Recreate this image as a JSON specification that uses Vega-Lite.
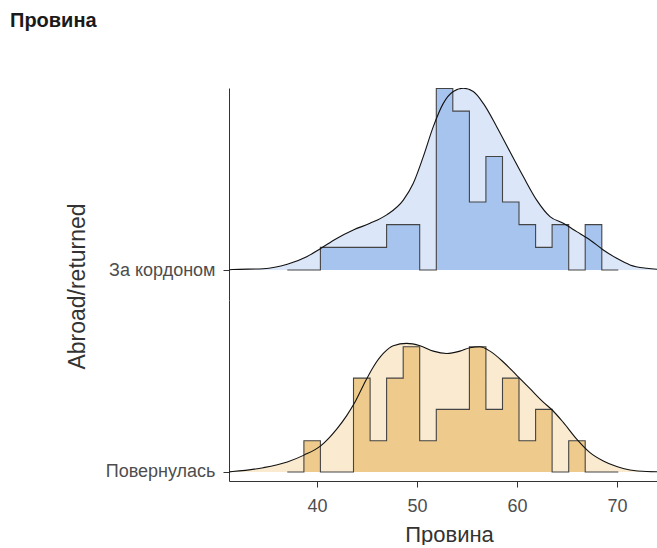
{
  "$schema": "https://vega.github.io/schema/vega-lite/v6.json",
  "background": "white",
  "padding": {"left": 10, "top": 11, "right": 0, "bottom": 0},
  "bounds": "flush",
  "title": {"text": "Провина", "anchor": "start", "frame": "group", "dx": -219, "font": "Liberation Sans", "fontSize": 20, "fontWeight": "bold", "color": "#1a1a1a", "offset": 55},
  "config": {
    "view": {"stroke": null},
    "font": "Liberation Sans",
    "axis": {"labelFont": "Liberation Sans", "titleFont": "Liberation Sans", "labelColor": "#4d4d4d", "titleColor": "#333333", "labelFontSize": 18, "titleFontSize": 22, "titleFontWeight": "normal", "domainColor": "#333333", "tickColor": "#333333", "grid": false}
  },
  "spacing": 0,
  "datasets": {
    "kde_top": [
      {"x": 31.0, "density": 0.0},
      {"x": 31.57, "density": 0.0003},
      {"x": 34.63, "density": 0.0008},
      {"x": 37.03, "density": 0.0037},
      {"x": 38.97, "density": 0.0086},
      {"x": 40.37, "density": 0.014},
      {"x": 41.97, "density": 0.0205},
      {"x": 43.63, "density": 0.026},
      {"x": 45.3, "density": 0.0303},
      {"x": 46.97, "density": 0.0358},
      {"x": 48.63, "density": 0.0454},
      {"x": 49.63, "density": 0.0563},
      {"x": 50.63, "density": 0.0736},
      {"x": 51.63, "density": 0.0931},
      {"x": 52.63, "density": 0.1082},
      {"x": 53.63, "density": 0.1159},
      {"x": 54.63, "density": 0.118},
      {"x": 55.63, "density": 0.1159},
      {"x": 56.63, "density": 0.1082},
      {"x": 57.97, "density": 0.0931},
      {"x": 59.3, "density": 0.0768},
      {"x": 60.63, "density": 0.0607},
      {"x": 61.97, "density": 0.0454},
      {"x": 63.3, "density": 0.0347},
      {"x": 64.63, "density": 0.0303},
      {"x": 65.97, "density": 0.0249},
      {"x": 67.3, "density": 0.0195},
      {"x": 68.63, "density": 0.013},
      {"x": 69.97, "density": 0.0076},
      {"x": 71.3, "density": 0.0033},
      {"x": 72.97, "density": 0.0011},
      {"x": 74.5, "density": 0.0003},
      {"x": 76.0, "density": 0.0}
    ],
    "kde_bottom": [
      {"x": 31.0, "density": 0.0},
      {"x": 31.57, "density": 0.0003},
      {"x": 34.63, "density": 0.0028},
      {"x": 37.03, "density": 0.0065},
      {"x": 38.7, "density": 0.0109},
      {"x": 40.37, "density": 0.0169},
      {"x": 41.97, "density": 0.0277},
      {"x": 42.97, "density": 0.0364},
      {"x": 43.7, "density": 0.044},
      {"x": 44.63, "density": 0.0559},
      {"x": 45.63, "density": 0.0678},
      {"x": 46.63, "density": 0.0765},
      {"x": 47.63, "density": 0.0815},
      {"x": 48.97, "density": 0.083},
      {"x": 50.3, "density": 0.0815},
      {"x": 51.63, "density": 0.078},
      {"x": 52.97, "density": 0.0765},
      {"x": 54.3, "density": 0.078},
      {"x": 55.3, "density": 0.0802},
      {"x": 56.3, "density": 0.0808},
      {"x": 57.3, "density": 0.078},
      {"x": 58.63, "density": 0.071},
      {"x": 59.97, "density": 0.0624},
      {"x": 61.3, "density": 0.0538},
      {"x": 62.63, "density": 0.0451},
      {"x": 63.57, "density": 0.0397},
      {"x": 64.63, "density": 0.032},
      {"x": 65.97, "density": 0.0212},
      {"x": 67.3, "density": 0.0125},
      {"x": 68.63, "density": 0.0071},
      {"x": 69.97, "density": 0.0035},
      {"x": 71.3, "density": 0.0013},
      {"x": 72.97, "density": 0.0003},
      {"x": 76.0, "density": 0.0}
    ],
    "hist_top": [
      {"bin_start": 37.03, "count": 0},
      {"bin_start": 38.69, "count": 0},
      {"bin_start": 40.34, "count": 1},
      {"bin_start": 42.0, "count": 1},
      {"bin_start": 43.65, "count": 1},
      {"bin_start": 45.31, "count": 1},
      {"bin_start": 46.96, "count": 2},
      {"bin_start": 48.62, "count": 2},
      {"bin_start": 50.27, "count": 0},
      {"bin_start": 51.93, "count": 8},
      {"bin_start": 53.58, "count": 7},
      {"bin_start": 55.24, "count": 3},
      {"bin_start": 56.89, "count": 5},
      {"bin_start": 58.55, "count": 3},
      {"bin_start": 60.2, "count": 2},
      {"bin_start": 61.86, "count": 1},
      {"bin_start": 63.51, "count": 2},
      {"bin_start": 65.17, "count": 0},
      {"bin_start": 66.82, "count": 2},
      {"bin_start": 68.48, "count": 0},
      {"bin_start": 70.13, "count": 0}
    ],
    "hist_bottom": [
      {"bin_start": 37.03, "count": 0},
      {"bin_start": 38.69, "count": 1},
      {"bin_start": 40.34, "count": 0},
      {"bin_start": 42.0, "count": 0},
      {"bin_start": 43.65, "count": 3},
      {"bin_start": 45.31, "count": 1},
      {"bin_start": 46.96, "count": 3},
      {"bin_start": 48.62, "count": 4},
      {"bin_start": 50.27, "count": 1},
      {"bin_start": 51.93, "count": 2},
      {"bin_start": 53.58, "count": 2},
      {"bin_start": 55.24, "count": 4},
      {"bin_start": 56.89, "count": 2},
      {"bin_start": 58.55, "count": 3},
      {"bin_start": 60.2, "count": 1},
      {"bin_start": 61.86, "count": 2},
      {"bin_start": 63.51, "count": 0},
      {"bin_start": 65.17, "count": 1},
      {"bin_start": 66.82, "count": 0},
      {"bin_start": 68.48, "count": 0},
      {"bin_start": 70.13, "count": 0}
    ]
  },
  "vconcat": [
    {
      "width": 440,
      "height": 212,
      "resolve": {"scale": {"y": "independent"}},
      "layer": [
        {
          "data": {"name": "kde_top"},
          "mark": {"type": "area", "interpolate": "monotone", "color": "#dbe6f8", "clip": true},
          "encoding": {
            "x": {"field": "x", "type": "quantitative", "scale": {"domain": [31.2, 75.2], "nice": false, "zero": false}, "axis": null},
            "y": {"field": "density", "type": "quantitative", "scale": {"domain": [-0.0195, 0.1182], "nice": false, "zero": false}, "axis": null}
          }
        },
        {
          "data": {"name": "hist_top"},
          "layer": [
            {"mark": {"type": "area", "interpolate": "step-after", "color": "#a7c4ef"}},
            {"mark": {"type": "line", "interpolate": "step-after", "color": "#444444", "strokeWidth": 1.1}}
          ],
          "encoding": {
            "x": {"field": "bin_start", "type": "quantitative", "scale": {"domain": [31.2, 75.2], "nice": false, "zero": false}, "axis": null},
            "y": {"field": "count", "type": "quantitative", "scale": {"domain": [-1.32, 8.02], "nice": false, "zero": false},
                  "axis": {"values": [0], "labelExpr": "'За кордоном'", "title": "Abroad/returned", "titleFontSize": 23, "titleY": 198, "titleX": -140, "titleAlign": "center", "labelPadding": 8, "tickSize": 6}}
          }
        },
        {
          "data": {"name": "kde_top"},
          "mark": {"type": "line", "interpolate": "monotone", "color": "#111111", "strokeWidth": 1.1, "clip": true},
          "encoding": {
            "x": {"field": "x", "type": "quantitative", "scale": {"domain": [31.2, 75.2], "nice": false, "zero": false}, "axis": null},
            "y": {"field": "density", "type": "quantitative", "scale": {"domain": [-0.0195, 0.1182], "nice": false, "zero": false}, "axis": null}
          }
        }
      ]
    },
    {
      "width": 440,
      "height": 181,
      "resolve": {"scale": {"y": "independent"}},
      "layer": [
        {
          "data": {"name": "kde_bottom"},
          "mark": {"type": "area", "interpolate": "monotone", "color": "#f9ead0", "clip": true},
          "encoding": {
            "x": {"field": "x", "type": "quantitative", "scale": {"domain": [31.2, 75.2], "nice": false, "zero": false},
                  "axis": {"values": [40, 50, 60, 70], "title": "Провина", "labelPadding": 10, "tickSize": 6, "titlePadding": 9}},
            "y": {"field": "density", "type": "quantitative", "scale": {"domain": [-0.0058, 0.111], "nice": false, "zero": false}, "axis": null}
          }
        },
        {
          "data": {"name": "hist_bottom"},
          "layer": [
            {"mark": {"type": "area", "interpolate": "step-after", "color": "#eecb8c"}},
            {"mark": {"type": "line", "interpolate": "step-after", "color": "#444444", "strokeWidth": 1.1}}
          ],
          "encoding": {
            "x": {"field": "bin_start", "type": "quantitative", "scale": {"domain": [31.2, 75.2], "nice": false, "zero": false}},
            "y": {"field": "count", "type": "quantitative", "scale": {"domain": [-0.288, 5.495], "nice": false, "zero": false},
                  "axis": {"values": [0], "labelExpr": "'Повернулась'", "title": null, "labelPadding": 8, "tickSize": 6}}
          }
        },
        {
          "data": {"name": "kde_bottom"},
          "mark": {"type": "line", "interpolate": "monotone", "color": "#111111", "strokeWidth": 1.1, "clip": true},
          "encoding": {
            "x": {"field": "x", "type": "quantitative", "scale": {"domain": [31.2, 75.2], "nice": false, "zero": false}},
            "y": {"field": "density", "type": "quantitative", "scale": {"domain": [-0.0058, 0.111], "nice": false, "zero": false}, "axis": null}
          }
        }
      ]
    }
  ]
}
